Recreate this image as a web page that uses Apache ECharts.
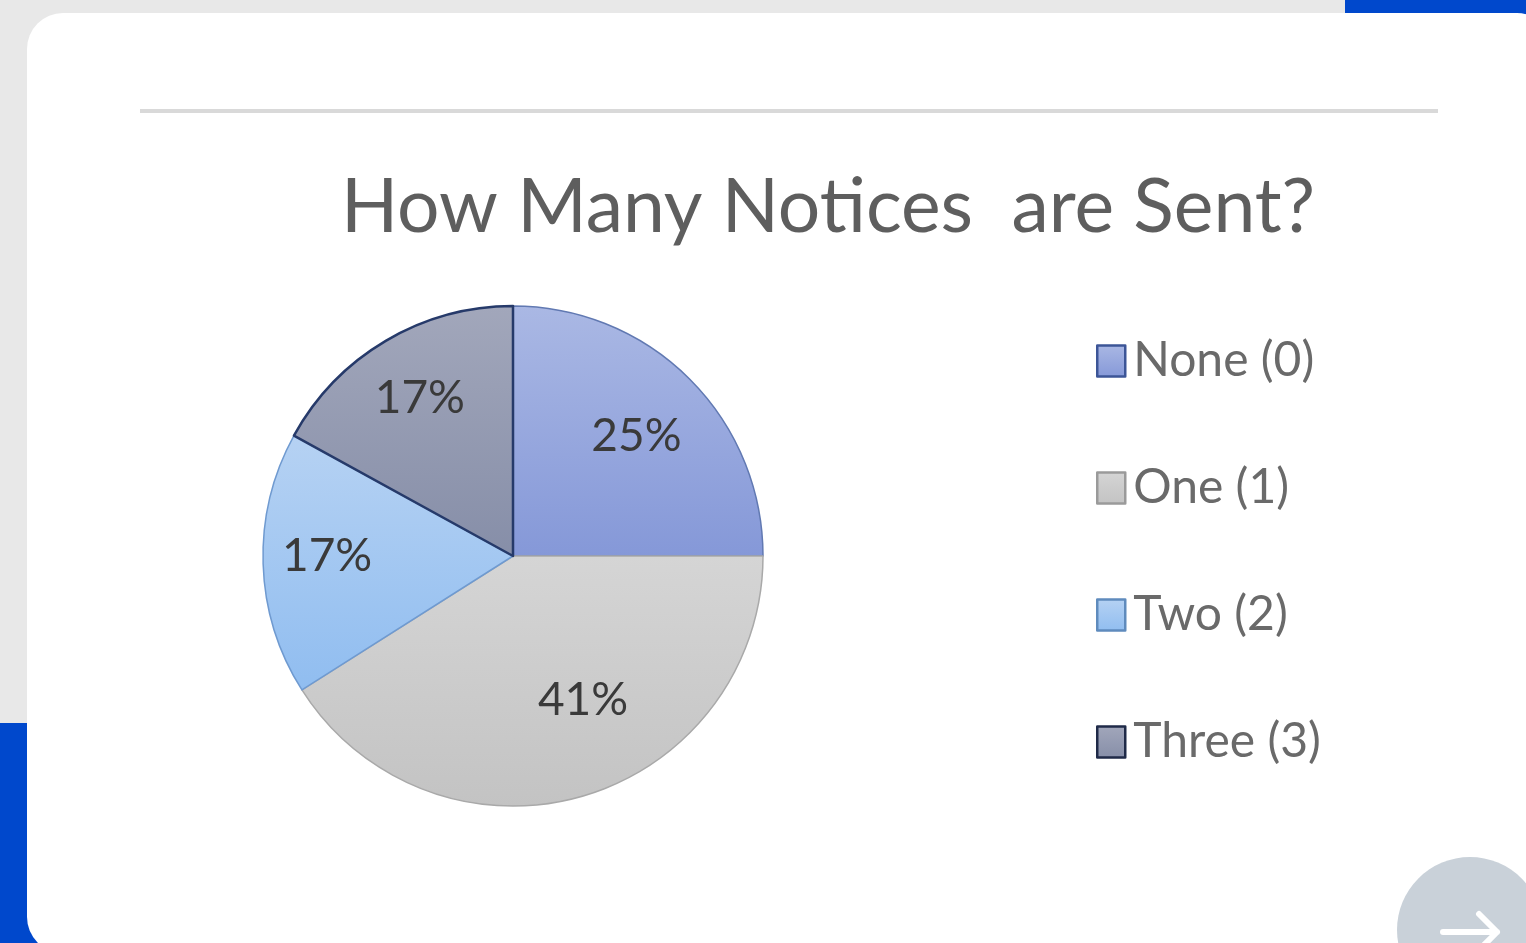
<!DOCTYPE html>
<html>
<head>
<meta charset="utf-8">
<script src="https://cdn.jsdelivr.net/npm/echarts@6/dist/echarts.min.js"></script>
<style>
  html, body { margin: 0; padding: 0; width: 1526px; height: 943px; overflow: hidden; background: #e8e8e8; }
  .blue { position: absolute; background: #0048cc; }
  #card { position: absolute; left: 27px; top: 13px; width: 1526px; height: 940px; background: #fff; border-radius: 36px; }
  #btn { position: absolute; left: 1397px; top: 857px; width: 146px; height: 146px; border-radius: 50%; background: #c9d1d9; }
  #arrow { position: absolute; left: 0; top: 0; }
  #chart { position: absolute; left: 0; top: 0; width: 1526px; height: 943px; }
</style>
</head>
<body>
<div class="blue" style="left:1345px;top:0;width:181px;height:60px;"></div>
<div class="blue" style="left:0;top:723px;width:60px;height:220px;"></div>
<div id="card"></div>
<div id="btn"></div>
<svg id="arrow" width="1526" height="943">
  <path d="M1443 932 L1497 932 M1479 914 L1497 932 L1479 950" stroke="#fff" stroke-width="6" fill="none" stroke-linecap="round" stroke-linejoin="round"/>
</svg>
<div id="chart"></div>
<script>
// ---- data ----
const titleText = 'How Many Notices  are Sent?';
const categories = ['None (0)', 'One (1)', 'Two (2)', 'Three (3)'];
const values = [25, 41, 17, 17];

// ---- styles ----
const topColors = ['#aab8e4', '#d5d5d5', '#b6d2f3', '#a2a7bb'];
const bottomColors = ['#8598d8', '#c3c3c3', '#90bdf0', '#868ea8'];
const borderColors = ['#6179b2', '#a9a9a9', '#6f9ad0', '#263a6a'];
const borderWidths = [1.5, 1.5, 1.5, 2.5];
const legendBorders = ['#3c5597', '#9a9a9a', '#5f8bbd', '#1f2a48'];
const labelShift = [[-6, 10], [19, -32], [-3, -6], [0, 0]];

const chart = echarts.init(document.getElementById('chart'), null, { renderer: 'canvas' });

const mainData = categories.map((name, i) => ({
  name: name,
  value: values[i],
  itemStyle: {
    color: new echarts.graphic.LinearGradient(0, 0, 0, 1, [
      { offset: 0, color: topColors[i] },
      { offset: 1, color: bottomColors[i] }
    ]),
    borderColor: borderColors[i],
    borderWidth: borderWidths[i]
  }
}));

const labelData = categories.map((name, i) => ({ name: name, value: values[i] }));

const legendData = categories.map((name, i) => ({
  name: name,
  itemStyle: { borderColor: legendBorders[i], borderWidth: 2.5 }
}));

chart.setOption({
  backgroundColor: 'transparent',
  animation: false,
  title: {
    text: titleText,
    left: 336,
    top: 165,
    textStyle: { fontFamily: 'Lato', fontWeight: 'normal', fontSize: 75, color: '#5e5e5e' }
  },
  graphic: [{
    type: 'rect',
    shape: { x: 140, y: 109, width: 1298, height: 4 },
    style: { fill: '#d9d9d9' },
    silent: true
  }],
  legend: {
    orient: 'vertical',
    left: 1091,
    top: 332,
    itemWidth: 28,
    itemHeight: 31,
    itemGap: 79,
    icon: 'rect',
    data: legendData,
    selectedMode: false,
    textStyle: { fontFamily: 'Lato', fontSize: 48, color: '#6a6a6a', padding: [0, 0, 0, 3] }
  },
  series: [
    {
      type: 'pie',
      center: [513, 556],
      radius: [0, 250],
      startAngle: 90,
      clockwise: true,
      silent: true,
      label: { show: false },
      labelLine: { show: false },
      emphasis: { disabled: true },
      data: mainData
    },
    {
      type: 'pie',
      center: [513, 556],
      radius: [110, 250],
      startAngle: 90,
      clockwise: true,
      silent: true,
      itemStyle: { color: 'rgba(0,0,0,0)', borderWidth: 0 },
      label: {
        show: true,
        position: 'inside',
        formatter: p => Math.round(p.percent) + '%',
        fontFamily: 'Lato',
        fontSize: 46,
        color: '#3a3a3a'
      },
      labelLayout: p => ({ dx: labelShift[p.dataIndex][0], dy: labelShift[p.dataIndex][1] }),
      labelLine: { show: false },
      emphasis: { disabled: true },
      data: labelData
    }
  ]
});
</script>
</body>
</html>
